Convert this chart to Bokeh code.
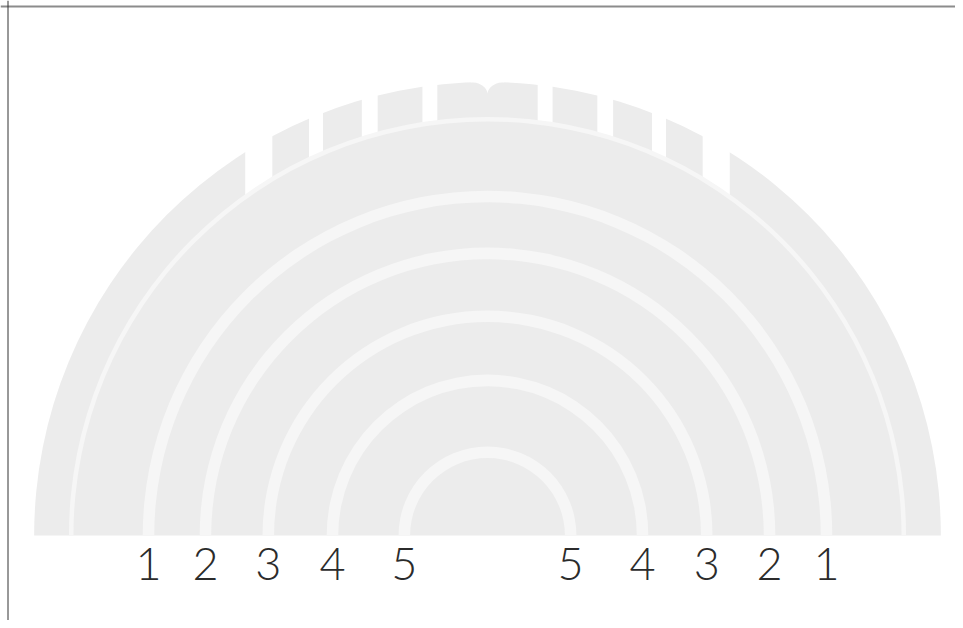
import numpy as np
from bokeh.plotting import figure
from bokeh.models import Range1d, Span
from bokeh.embed import file_html
from bokeh.resources import INLINE
from bokeh.core.properties import value

# ---- data ----
ring_labels = ["1", "2", "3", "4", "5"]
ring_radius = [75.0, 62.4, 48.5, 34.3, 18.4]
outer_radius = 100.3
seam_radius = 92.1
gap_inner = [11.1, 24.3, 36.4, 47.6]
gap_outer = [14.4, 27.8, 39.5, 53.6]
notch_width = 3.7
notch_depth = 2.7

# ---- layout ----
W, H = 955, 620
PX = 4.52            # pixels per data unit
CX, CY = 487, 535    # centre in canvas pixels

p = figure(width=W, height=H, output_backend="svg", toolbar_location=None,
           x_range=Range1d(-CX / PX, (W - CX) / PX),
           y_range=Range1d(-(H - CY) / PX, CY / PX),
           x_axis_location=None, y_axis_location=None, min_border=0)
p.grid.visible = False
p.outline_line_color = None
p.background_fill_color = "white"
p.border_fill_color = "white"

GRAY = "#ececec"
LIGHT = "#f6f6f6"

# main half disc
p.wedge(x=0, y=0, radius=outer_radius, start_angle=0, end_angle=np.pi,
        fill_color=GRAY, line_color=None)

# tread slits (vertical white cuts down to the seam)
xs, ys = [], []
top = outer_radius + 4
for a, b in zip(gap_inner, gap_outer):
    for s in (-1, 1):
        xx = np.linspace(a, b, 20)
        yy = np.sqrt(seam_radius ** 2 - xx ** 2)
        xs.append(list(s * xx) + [s * b, s * a])
        ys.append(list(yy) + [top, top])

# centre notch from the rounded corners of the two middle blocks
t = np.linspace(0, np.pi / 2, 24)
lx = -notch_width + notch_width * np.sin(t)
ly = outer_radius - notch_depth + notch_depth * np.cos(t)
xs.append(list(lx) + list(-lx[::-1]) + [notch_width, -notch_width])
ys.append(list(ly) + list(ly[::-1]) + [top, top])

p.patches(xs, ys, fill_color="white", line_color=None)

# seam ring
p.annular_wedge(x=0, y=0, inner_radius=seam_radius - 0.5, outer_radius=seam_radius + 0.5,
                start_angle=0, end_angle=np.pi, fill_color=LIGHT, line_color=None)

# labelled rings
ring_w = 2.55
for r in ring_radius:
    p.annular_wedge(x=0, y=0, inner_radius=r - ring_w / 2, outer_radius=r + ring_w / 2,
                    start_angle=0, end_angle=np.pi, fill_color=LIGHT, line_color=None)

# labels on both sides
lab_x = [-r for r in ring_radius] + [r for r in ring_radius]
lab_t = ring_labels + ring_labels
p.text(x=lab_x, y=[-6.4] * len(lab_x), text=lab_t,
       text_font=value("Lato Light"), text_font_size="45px",
       text_align="center", text_baseline="alphabetic", text_color="#2b2b2b")

# frame edges (top and left)
p.add_layout(Span(location=(CY - 6) / PX, dimension="width",
                  line_color="#8c8c8c", line_width=2))
p.add_layout(Span(location=-(CX - 7.5) / PX, dimension="height",
                  line_color="#333333", line_width=1))

open("out.html", "w").write(file_html(p, INLINE))
